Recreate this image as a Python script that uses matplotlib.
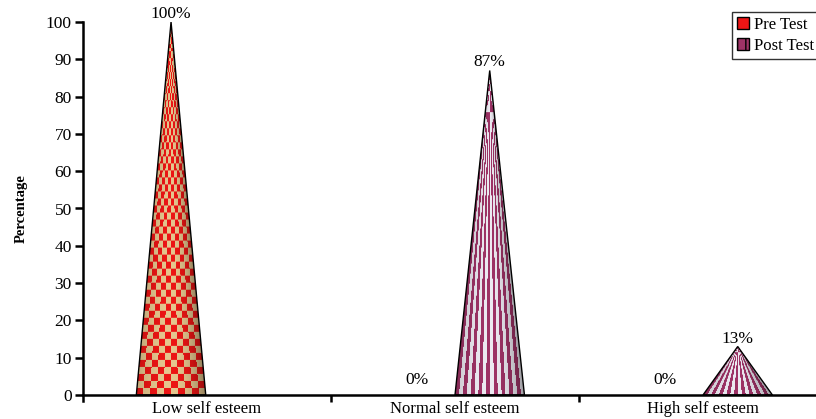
import numpy as np
import matplotlib
matplotlib.use('Agg')
import matplotlib.pyplot as plt
from matplotlib.patches import Polygon, Patch

plt.rcParams['font.family'] = ['Liberation Serif', 'DejaVu Serif']

categories = ['Low self esteem', 'Normal self esteem', 'High self esteem']
pre_test = [100, 0, 0]
post_test = [0, 87, 13]
series_names = ['Pre Test', 'Post Test']


def texture(v, kind, nx=70):
    # cone texture, roughly one cell per pixel
    ny = max(int(v * 3.73), 2)
    yy, xx = np.mgrid[0:ny, 0:nx]
    xc = (xx + 0.5) / nx * 2 - 1
    frac = 1 - (yy + 0.5) / ny
    u = np.clip(xc / np.maximum(frac, 1e-3), -1, 1)
    img = np.zeros((ny, nx, 3))
    if kind == 'pre':
        col = np.floor((u + 1) / 2 * 10).astype(int)
        row = (yy // 7).astype(int)
        on = (col + row) % 2 == 0
        img[on] = [0.93, 0.08, 0.08]
        img[~on] = [0.90, 0.78, 0.56]
    else:
        s = np.floor((u + 1) / 2 * 18).astype(int) % 2 == 0
        img[s] = [0.62, 0.20, 0.40]
        img[~s] = [0.93, 0.92, 0.95]
    shade = 1 - 0.35 * np.clip(u, 0, 1) ** 2 - 0.15 * np.clip(-u, 0, 1) ** 2
    img *= shade[..., None]
    return img


fig = plt.figure(figsize=(8.16, 4.19), dpi=100)
ax = fig.add_axes([83 / 816, 24 / 419, 744 / 816, 373 / 419])

x = np.arange(len(categories))
w = 0.28
offsets = [-0.145, 0.14]
kinds = ['pre', 'post']
for vals, off, kind in zip([pre_test, post_test], offsets, kinds):
    for xi, v in zip(x, vals):
        c = xi + off
        if v > 0:
            poly = Polygon([(c - w / 2, 0), (c, v), (c + w / 2, 0)], closed=True,
                           facecolor='none', edgecolor='black', linewidth=1, zorder=3)
            ax.add_patch(poly)
            im = ax.imshow(texture(v, kind), extent=[c - w / 2, c + w / 2, 0, v],
                           origin='lower', aspect='auto', interpolation='bilinear', zorder=2)
            im.set_clip_path(poly)
            ax.annotate(f'{v}%', (c, v), xytext=(0, 0), textcoords='offset points',
                        ha='center', va='bottom', fontsize=12.5)
        elif kind == 'pre':
            ax.annotate(f'{v}%', (c - 0.01, 0), xytext=(0, 5), textcoords='offset points',
                        ha='center', va='bottom', fontsize=12.5)

ax.set_xlim(-0.5, 2.5)
ax.set_ylim(0, 100)
ax.set_yticks(range(0, 101, 10))
ax.set_xticks([0.5, 1.5])
ax.set_xticklabels([])
ax.set_xticks(x, minor=True)
ax.set_xticklabels(categories, minor=True)
ax.tick_params(axis='x', which='minor', length=0, labelsize=12, pad=4)
ax.tick_params(axis='x', which='major', length=5, width=1.8, direction='out')
ax.tick_params(axis='y', length=6, width=1.8, direction='out', labelsize=12.5, pad=2)
for s in ['top', 'right']:
    ax.spines[s].set_visible(False)
ax.spines['left'].set_linewidth(1.8)
ax.spines['bottom'].set_linewidth(1.8)
ax.spines['left'].set_bounds(-1.5, 100)
ax.set_ylabel('Percentage', fontweight='bold', fontsize=10.5, labelpad=13)

handles = [Patch(facecolor='#ee1515', edgecolor='black'),
           Patch(facecolor='#9e3366', edgecolor='black', hatch='||')]
fig.legend(handles, series_names, loc='upper left', bbox_to_anchor=(732 / 816, 1 - 12 / 419),
           frameon=True, fancybox=False, edgecolor='black', fontsize=12,
           handlelength=0.7, handleheight=0.7, handletextpad=0.3, borderpad=0.3,
           labelspacing=0.3, borderaxespad=0)

fig.savefig('out.png', dpi=100)
